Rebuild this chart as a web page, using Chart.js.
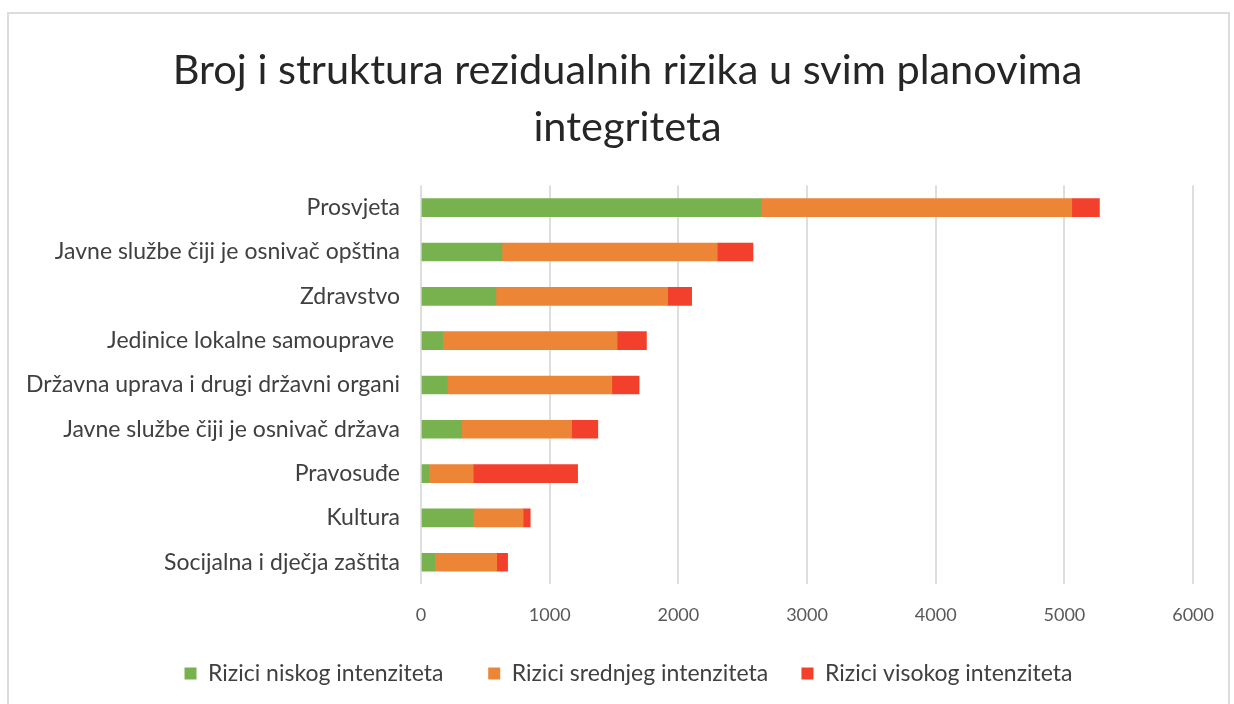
<!DOCTYPE html>
<html>
<head>
<meta charset="utf-8">
<script src="https://cdn.jsdelivr.net/npm/chart.js@4"></script>
<style>
  html, body { margin: 0; padding: 0; background: #fff; }
  #frame {
    position: absolute; left: 7px; top: 12px; width: 1223px; height: 700px;
    border: 2px solid #dcdcdc; box-sizing: border-box;
  }
  #wrap { position: absolute; left: 0; top: 0; width: 1234px; height: 704px; }
</style>
</head>
<body>
<div id="frame"></div>
<div id="wrap"><canvas id="riskChart" width="1234" height="704"></canvas></div>
<script>
// Categories, top to bottom
const categories = [
    'Prosvjeta',
    'Javne službe čiji je osnivač opština',
    'Zdravstvo',
    'Jedinice lokalne samouprave ',
    'Državna uprava i drugi državni organi',
    'Javne službe čiji je osnivač država',
    'Pravosuđe',
    'Kultura',
    'Socijalna i dječja zaštita'
];

// Values
const lowRisk    = [2645, 629, 582, 168, 204, 316, 60, 406, 106];
const mediumRisk = [2412, 1673, 1335, 1356, 1279, 854, 346, 388, 482];
const highRisk   = [215, 278, 186, 228, 212, 204, 811, 55, 85];

const xTicks = [0, 1000, 2000, 3000, 4000, 5000, 6000];

const font = "Lato, sans-serif";

// legend gaps after each entry (last one none)
const legendGaps = ['\u2003\u2002', '\u2003', ''];

// title and legend in the original sit centred on the frame, not on the padded area
const shiftBlocks = {
    id: 'shiftBlocks',
    afterLayout(chart) {
        [[chart.titleBlock, 27], [chart.legend, 28]].forEach(([box, dx]) => {
            if (box) { box.left += dx; box.right += dx; }
        });
    }
};

const ctx = document.getElementById('riskChart').getContext('2d');

new Chart(ctx, {
    type: 'bar',
    data: {
        labels: categories,
        datasets: [
            { label: 'Rizici niskog intenziteta', data: lowRisk, backgroundColor: '#77B24F', barThickness: 18 },
            { label: 'Rizici srednjeg intenziteta', data: mediumRisk, backgroundColor: '#ED8537', barThickness: 18 },
            { label: 'Rizici visokog intenziteta', data: highRisk, backgroundColor: '#F2402C', barThickness: 18 }
        ]
    },
    plugins: [shiftBlocks],
    options: {
        indexAxis: 'y',
        responsive: false,
        animation: false,
        layout: { padding: { left: 3, right: 36, top: 42, bottom: 9 } },
        scales: {
            x: {
                stacked: true,
                min: 0,
                max: 6000,
                afterBuildTicks: (axis) => { axis.ticks = xTicks.map(v => ({ value: v })); },
                grid: { color: '#dedede', lineWidth: 2, drawTicks: false },
                border: { display: false },
                ticks: {
                    color: '#595959',
                    font: { family: font, size: 18 },
                    padding: 20,
                    callback: (v) => String(v)
                }
            },
            y: {
                stacked: true,
                grid: { display: false },
                border: { display: false },
                afterFit: (scale) => { scale.width = 418; },
                ticks: { color: '#404040', font: { family: font, size: 23 }, padding: 13 }
            }
        },
        plugins: {
            title: {
                display: true,
                text: ['Broj i struktura rezidualnih rizika u svim planovima', 'integriteta'],
                color: '#262626',
                font: { family: font, size: 41.5, weight: 'normal', lineHeight: 1.38 },
                padding: { top: 0, bottom: 29 }
            },
            legend: {
                position: 'bottom',
                labels: {
                    color: '#404040',
                    font: { family: font, size: 23 },
                    boxWidth: 12,
                    boxHeight: 12,
                    padding: 16,
                    generateLabels: (chart) => {
                        const items = Chart.defaults.plugins.legend.labels.generateLabels(chart);
                        return items.map((it, i) => ({ ...it, text: it.text + legendGaps[i] }));
                    }
                }
            },
            tooltip: { enabled: false }
        }
    }
});
</script>
</body>
</html>
